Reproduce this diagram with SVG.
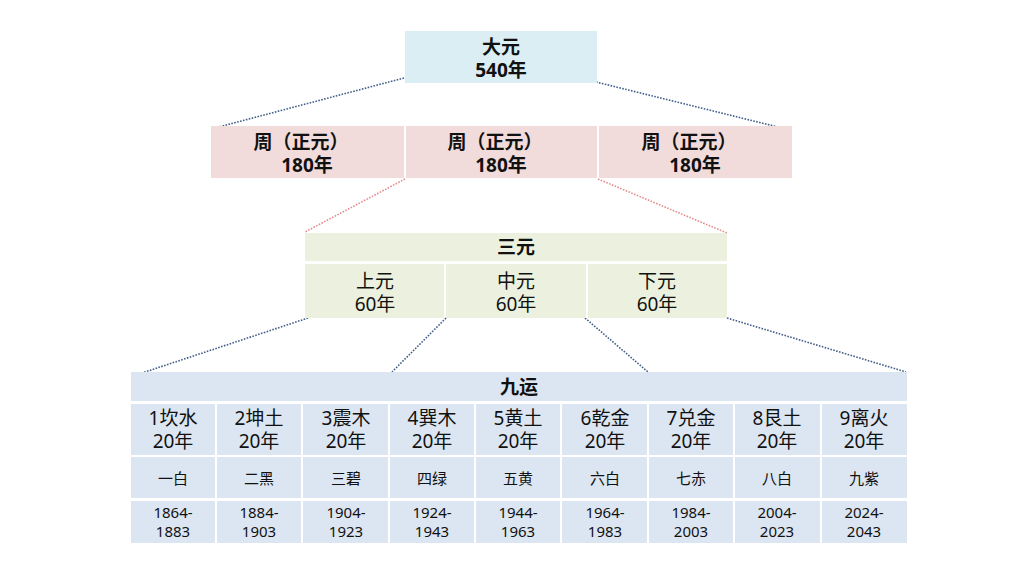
<svg xmlns="http://www.w3.org/2000/svg" width="1024" height="574" viewBox="0 0 1024 574">
<style>
text{font-family:"Noto Sans","Noto Sans CJK SC",sans-serif;fill:#111;text-anchor:middle}
.b{font-weight:bold;font-size:19px}
.m{font-size:19px}
.s{font-size:15px}
.y{font-size:15px}
.blue{fill:#DAEEF3}
.pink{fill:#F2DCDB}
.green{fill:#EBF1DE}
.lb{fill:#DCE6F2}
.cb{stroke:#44608A;stroke-width:1.6;stroke-dasharray:1.6 1.4;fill:none}
.cp{stroke:#E58C8E;stroke-width:1.6;stroke-dasharray:1.6 1.4;fill:none}
</style>
<rect width="1024" height="574" fill="#fff"/>
<g id="connectors">
<line class="cb" x1="404" y1="78" x2="211" y2="129"/>
<line class="cb" x1="596" y1="82" x2="790" y2="130"/>
<line class="cp" x1="405" y1="179" x2="305" y2="232"/>
<line class="cp" x1="598" y1="179" x2="727" y2="233"/>
<line class="cb" x1="308" y1="318" x2="142" y2="373"/>
<line class="cb" x1="446" y1="318" x2="392" y2="372"/>
<line class="cb" x1="585" y1="318" x2="648" y2="372"/>
<line class="cb" x1="727" y1="318" x2="906" y2="372"/>
</g>
<g id="dayuan">
<rect class="blue" x="405" y="31" width="192" height="52"/>
<text class="b" x="501" y="54">大元<tspan x="501" dy="23">540年</tspan></text>
</g>
<g id="zhou">
<rect class="pink" x="211" y="126" width="193" height="52"/>
<rect class="pink" x="406" y="126" width="191" height="52"/>
<rect class="pink" x="599" y="126" width="193" height="52"/>
<text class="b" x="301" y="149">周（正元）<tspan x="307" dy="23">180年</tspan></text>
<text class="b" x="495" y="149">周（正元）<tspan x="501" dy="23">180年</tspan></text>
<text class="b" x="689" y="149">周（正元）<tspan x="695" dy="23">180年</tspan></text>
</g>
<g id="sanyuan">
<rect class="green" x="305" y="233" width="422" height="28"/>
<text class="b" x="516" y="254">三元</text>
<rect class="green" x="305" y="264" width="139" height="54"/>
<rect class="green" x="446" y="264" width="140" height="54"/>
<rect class="green" x="588" y="264" width="139" height="54"/>
<text class="m" x="375" y="288">上元<tspan x="375" dy="23">60年</tspan></text>
<text class="m" x="516" y="288">中元<tspan x="516" dy="23">60年</tspan></text>
<text class="m" x="657" y="288">下元<tspan x="657" dy="23">60年</tspan></text>
</g>
<g id="jiuyun">
<rect class="lb" x="131" y="372" width="776" height="29"/>
<text class="b" x="519" y="394">九运</text>
<g id="cells">
<rect class="lb" x="131" y="404" width="84" height="51"/><rect class="lb" x="131" y="457" width="84" height="41"/><rect class="lb" x="131" y="501" width="84" height="42"/>
<rect class="lb" x="217" y="404" width="84" height="51"/><rect class="lb" x="217" y="457" width="84" height="41"/><rect class="lb" x="217" y="501" width="84" height="42"/>
<rect class="lb" x="303" y="404" width="85" height="51"/><rect class="lb" x="303" y="457" width="85" height="41"/><rect class="lb" x="303" y="501" width="85" height="42"/>
<rect class="lb" x="390" y="404" width="84" height="51"/><rect class="lb" x="390" y="457" width="84" height="41"/><rect class="lb" x="390" y="501" width="84" height="42"/>
<rect class="lb" x="476" y="404" width="84" height="51"/><rect class="lb" x="476" y="457" width="84" height="41"/><rect class="lb" x="476" y="501" width="84" height="42"/>
<rect class="lb" x="562" y="404" width="85" height="51"/><rect class="lb" x="562" y="457" width="85" height="41"/><rect class="lb" x="562" y="501" width="85" height="42"/>
<rect class="lb" x="649" y="404" width="84" height="51"/><rect class="lb" x="649" y="457" width="84" height="41"/><rect class="lb" x="649" y="501" width="84" height="42"/>
<rect class="lb" x="735" y="404" width="85" height="51"/><rect class="lb" x="735" y="457" width="85" height="41"/><rect class="lb" x="735" y="501" width="85" height="42"/>
<rect class="lb" x="822" y="404" width="85" height="51"/><rect class="lb" x="822" y="457" width="85" height="41"/><rect class="lb" x="822" y="501" width="85" height="42"/>
</g>
<g id="labels">
<text class="m" x="173" y="425">1坎水<tspan x="173" dy="23">20年</tspan></text><text class="s" x="173" y="484">一白</text><text class="y" x="173" y="518">1864-<tspan x="173" dy="19">1883</tspan></text>
<text class="m" x="259" y="425">2坤土<tspan x="259" dy="23">20年</tspan></text><text class="s" x="259" y="484">二黑</text><text class="y" x="259" y="518">1884-<tspan x="259" dy="19">1903</tspan></text>
<text class="m" x="346" y="425">3震木<tspan x="346" dy="23">20年</tspan></text><text class="s" x="346" y="484">三碧</text><text class="y" x="346" y="518">1904-<tspan x="346" dy="19">1923</tspan></text>
<text class="m" x="432" y="425">4巽木<tspan x="432" dy="23">20年</tspan></text><text class="s" x="432" y="484">四绿</text><text class="y" x="432" y="518">1924-<tspan x="432" dy="19">1943</tspan></text>
<text class="m" x="518" y="425">5黄土<tspan x="518" dy="23">20年</tspan></text><text class="s" x="518" y="484">五黄</text><text class="y" x="518" y="518">1944-<tspan x="518" dy="19">1963</tspan></text>
<text class="m" x="605" y="425">6乾金<tspan x="605" dy="23">20年</tspan></text><text class="s" x="605" y="484">六白</text><text class="y" x="605" y="518">1964-<tspan x="605" dy="19">1983</tspan></text>
<text class="m" x="691" y="425">7兑金<tspan x="691" dy="23">20年</tspan></text><text class="s" x="691" y="484">七赤</text><text class="y" x="691" y="518">1984-<tspan x="691" dy="19">2003</tspan></text>
<text class="m" x="777" y="425">8艮土<tspan x="777" dy="23">20年</tspan></text><text class="s" x="777" y="484">八白</text><text class="y" x="777" y="518">2004-<tspan x="777" dy="19">2023</tspan></text>
<text class="m" x="864" y="425">9离火<tspan x="864" dy="23">20年</tspan></text><text class="s" x="864" y="484">九紫</text><text class="y" x="864" y="518">2024-<tspan x="864" dy="19">2043</tspan></text>
</g>
</g>
</svg>
